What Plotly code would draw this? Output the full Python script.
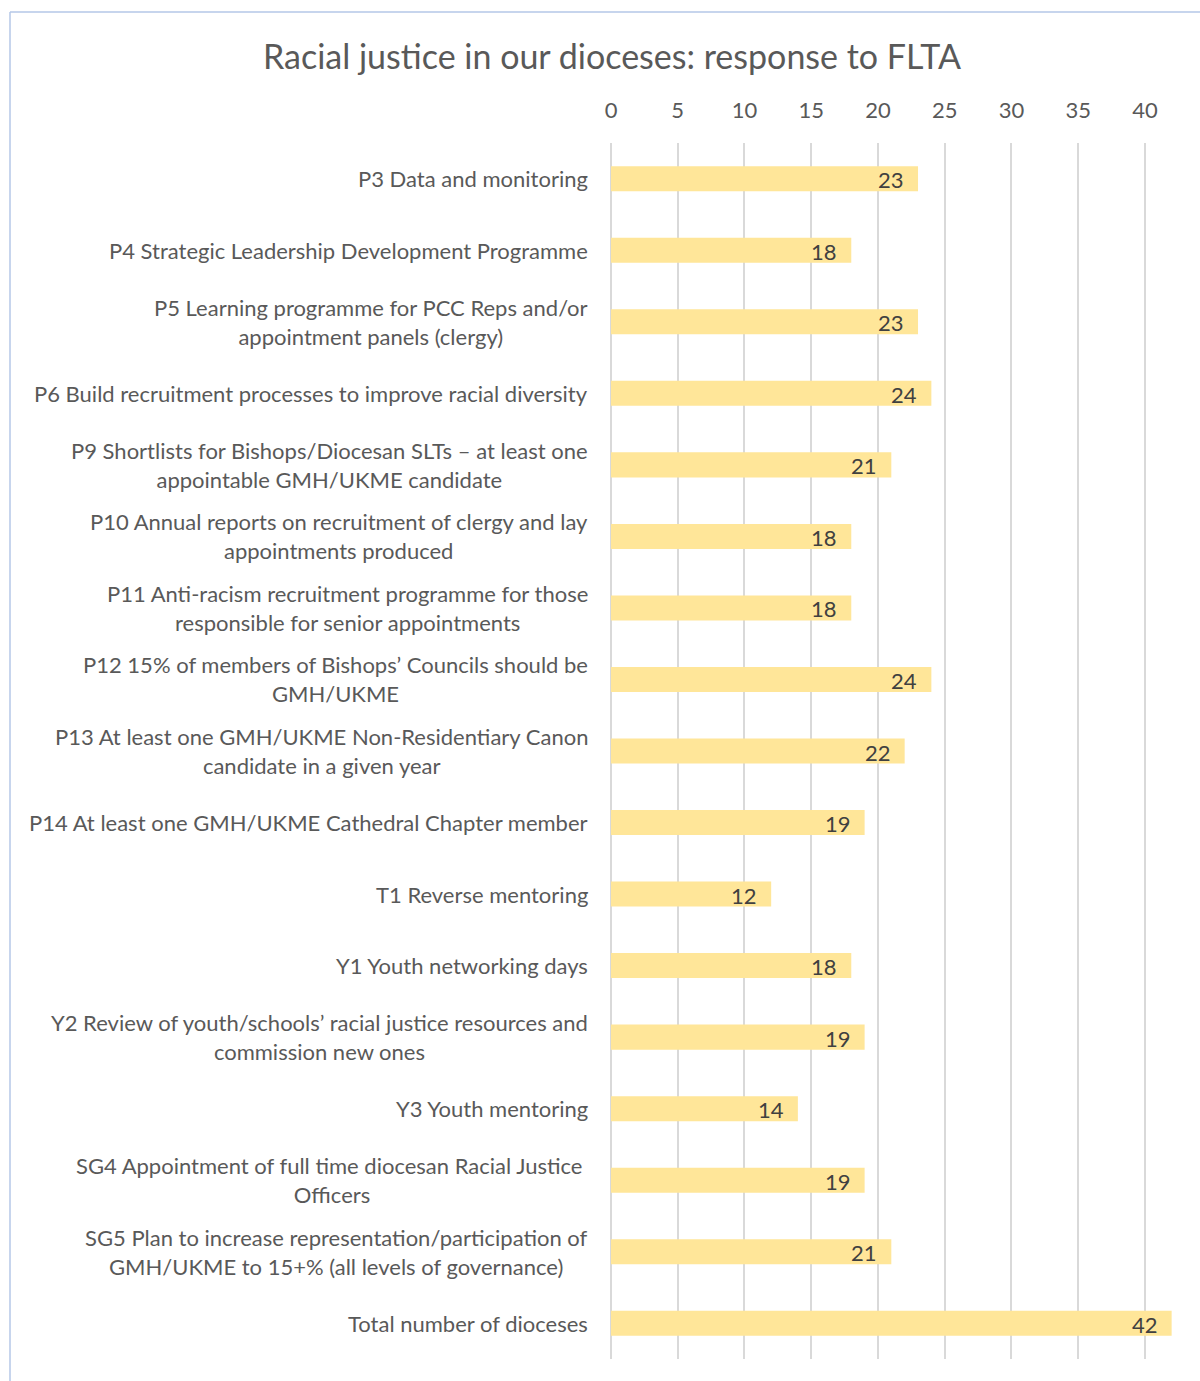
import plotly.graph_objects as go

# Commitments and number of dioceses responding to each
categories = [
    "P3 Data and monitoring",
    "P4 Strategic Leadership Development Programme",
    "P5 Learning programme for PCC Reps and/or<br>appointment panels (clergy)",
    "P6 Build recruitment processes to improve racial diversity",
    "P9 Shortlists for Bishops/Diocesan SLTs – at least one<br>appointable GMH/UKME candidate",
    "P10 Annual reports on recruitment of clergy and lay<br>appointments produced",
    "P11 Anti-racism recruitment programme for those<br>responsible for senior appointments",
    "P12 15% of members of Bishops’ Councils should be<br>GMH/UKME",
    "P13 At least one GMH/UKME Non-Residentiary Canon<br>candidate in a given year",
    "P14 At least one GMH/UKME Cathedral Chapter member",
    "T1 Reverse mentoring",
    "Y1 Youth networking days",
    "Y2 Review of youth/schools’ racial justice resources and<br>commission new ones",
    "Y3 Youth mentoring",
    "SG4 Appointment of full time diocesan Racial Justice&nbsp;<br>Officers",
    "SG5 Plan to increase representation/participation of<br>GMH/UKME to 15+% (all levels of governance)",
    "Total number of dioceses",
]
dioceses = [23, 18, 23, 24, 21, 18, 18, 24, 22, 19, 12, 18, 19, 14, 19, 21, 42]
x_ticks = [0, 5, 10, 15, 20, 25, 30, 35, 40]

W, H = 1200, 1381
L, R, T, B = 611, 3, 143, 22
FONT = "Lato"
TEXT = "#595959"

ids = [f"c{i}" for i in range(len(categories))]

fig = go.Figure(go.Bar(
    y=ids, x=dioceses, orientation="h",
    marker=dict(color="#FFE699", line=dict(width=0)),
    width=0.35, hoverinfo="skip",
))

annotations = []
for cid, label, v in zip(ids, categories, dioceses):
    annotations.append(dict(
        x=0, xref="paper", y=cid, yref="y", text=label, showarrow=False,
        xanchor="right", yanchor="middle", align="center", xshift=-21,
        font=dict(family=FONT, size=22, color=TEXT),
    ))
    annotations.append(dict(
        x=v, xref="x", y=cid, yref="y", text=str(v), showarrow=False,
        xanchor="right", yanchor="middle", xshift=-12, yshift=-1,
        font=dict(family=FONT, size=22, color="#404040"),
    ))

plot_w = W - L - R
plot_h = H - T - B
fig.update_layout(
    width=W, height=H,
    margin=dict(l=L, r=R, t=T, b=B, autoexpand=False),
    paper_bgcolor="white", plot_bgcolor="white",
    showlegend=False,
    title=dict(
        text="Racial justice in our dioceses: response to FLTA",
        x=612 / W, xanchor="center", y=1 - 57 / H, yanchor="middle",
        font=dict(family=FONT, size=34, color=TEXT),
    ),
    xaxis=dict(
        side="top", range=[0, 43.9], tickvals=x_ticks,
        showgrid=True, gridcolor="#D9D9D9", gridwidth=1.5,
        zeroline=True, zerolinecolor="#D9D9D9", zerolinewidth=1.5,
        showline=False, ticks="", ticklabelstandoff=20,
        tickfont=dict(family=FONT, size=22, color=TEXT),
    ),
    yaxis=dict(
        categoryorder="array", categoryarray=ids, autorange="reversed",
        showticklabels=False, showgrid=False, zeroline=False, ticks="",
    ),
    annotations=annotations,
    shapes=[
        # chart frame (left and top edges)
        dict(type="line", xref="paper", yref="paper",
             x0=(10 - L) / plot_w, x1=(10 - L) / plot_w,
             y0=(H - B - 12) / plot_h, y1=-B / plot_h - 0.01,
             line=dict(color="#B4C7E7", width=1.5)),
        dict(type="line", xref="paper", yref="paper",
             x0=(10 - L) / plot_w, x1=(W - L + 5) / plot_w,
             y0=(H - B - 12) / plot_h, y1=(H - B - 12) / plot_h,
             line=dict(color="#B4C7E7", width=1.5)),
    ],
)

fig.write_html("out.html")
